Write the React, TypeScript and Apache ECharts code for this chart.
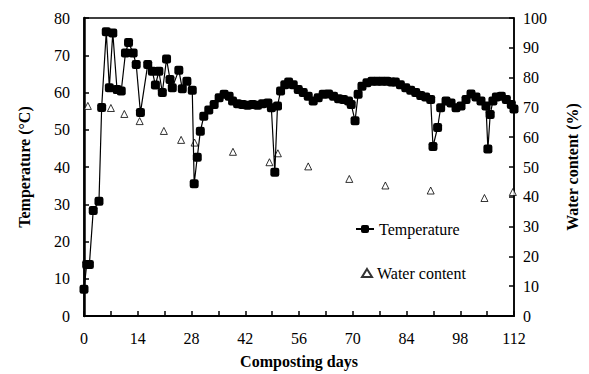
import React, { useEffect, useRef } from "react";
import * as echarts from "echarts";

const tempDays = [0, 0.7, 1.4, 2.4, 3.9, 4.6, 5.8, 6.6, 7.5, 8.6, 9.7, 10.8, 11.6, 12.8, 13.6, 14.7, 16.6, 17.8, 18.6, 19.5, 20.4, 21.5, 22.4, 23, 24.7, 25.6, 26.8, 28.2, 28.7, 29.5, 30.3, 31.2, 32.5, 33.9, 35.2, 36.5, 37.8, 38.7, 40, 41.3, 42.6, 43.9, 45.2, 46.5, 47.9, 48.8, 49.7, 50.4, 51.2, 52.3, 53.3, 54.5, 55.8, 57.1, 58.4, 59.7, 61, 62.3, 63.7, 65, 66.3, 67.6, 68.9, 69.6, 70.6, 71.4, 72.4, 73.7, 75, 76.3, 77.6, 78.9, 80.1, 81.1, 82.4, 83.8, 85.1, 86.4, 87.7, 89, 90.3, 90.9, 92.1, 92.9, 94.3, 95.6, 96.9, 98.2, 99.5, 100.8, 102.1, 103.4, 104.7, 105.2, 105.8, 106.5, 107.4, 108.7, 110, 111.3, 112];
const tempValues = [7.2, 13.8, 13.8, 28.3, 30.8, 56, 76.3, 61.3, 76, 60.8, 60.4, 70.6, 73.4, 70.6, 67.5, 54.6, 67.5, 65.7, 62, 65.7, 60, 69, 63.5, 61.3, 66, 61, 63, 60.6, 35.5, 42.6, 49.6, 53.6, 55.3, 56.8, 58.6, 59.5, 59, 57.7, 57, 56.8, 56.6, 56.8, 56.6, 57, 57.2, 55.9, 38.6, 56.4, 60.4, 62.1, 62.8, 62.1, 60.8, 60, 59, 57.7, 58.6, 59.5, 59.6, 59, 58.3, 58.1, 57.7, 56.8, 52.4, 59.5, 61.7, 62.6, 63, 63, 63, 63, 62.8, 62.8, 62.1, 61.3, 60.6, 60, 59.2, 58.8, 58.1, 45.5, 50.6, 55.9, 57.7, 57.2, 55.9, 56.4, 58.1, 59.6, 58.8, 57.7, 56.4, 44.8, 54.1, 57.7, 58.8, 59, 58.1, 56.8, 55.6];

const waterDays = [1, 7, 10.5, 14.5, 20.8, 25.3, 28.8, 38.8, 48.3, 50.5, 58.4, 69.1, 78.5, 90.3, 104.3, 111.7];
const waterValues = [70.5, 69.8, 67.8, 65.4, 62.1, 59.1, 58.2, 55.1, 51.6, 54.6, 50.2, 46, 43.8, 42.1, 39.6, 41.6];

const xTicks = { min: 0, max: 112, interval: 14 };
const leftTicks = { min: 0, max: 80, interval: 10 };
const rightTicks = { min: 0, max: 100, interval: 10 };

const FONT = "Times New Roman";

export default function App() {
  const ref = useRef<HTMLDivElement>(null);
  useEffect(() => {
    document.body.style.margin = "0";
    const chart = echarts.init(ref.current!, null, { renderer: "svg" });
    const tempData = tempDays.map((d, i) => [d, tempValues[i]]);
    const waterData = waterDays.map((d, i) => [d, waterValues[i]]);
    const axisLabel = { color: "#000", fontFamily: FONT, fontSize: 16 };
    const nameStyle = { color: "#000", fontFamily: FONT, fontSize: 16, fontWeight: "bold" as const };
    chart.setOption({
      animation: false,
      backgroundColor: "#fff",
      textStyle: { fontFamily: FONT },
      grid: { left: 84, right: 75, top: 18, bottom: 56, show: true, borderColor: "#000", borderWidth: 1.5 },
      legend: [
        {
          data: ["Temperature"],
          left: 350,
          top: 216,
          itemWidth: 18,
          itemHeight: 10,
          textStyle: { color: "#000", fontFamily: FONT, fontSize: 16 },
        },
        {
          data: ["Water content"],
          left: 356,
          top: 260,
          itemWidth: 10,
          itemHeight: 8,
          textStyle: { color: "#000", fontFamily: FONT, fontSize: 16 },
        },
      ],
      xAxis: {
        type: "value",
        ...xTicks,
        name: "Composting days",
        nameLocation: "middle",
        nameGap: 37,
        nameTextStyle: nameStyle,
        axisLine: { lineStyle: { color: "#000", width: 2 } },
        axisTick: { inside: true, length: 5, lineStyle: { color: "#000", width: 1.5 } },
        minorTick: { show: true, splitNumber: 2, length: 5, lineStyle: { color: "#000", width: 1.5 } },
        axisLabel: { ...axisLabel, margin: 14 },
        splitLine: { show: false },
      },
      yAxis: [
        {
          type: "value",
          ...leftTicks,
          name: "Temperature (°C)",
          nameLocation: "middle",
          nameGap: 52,
          nameRotate: 90,
          nameTextStyle: nameStyle,
          axisLine: { show: true, lineStyle: { color: "#000", width: 2.5 } },
          axisTick: { show: true, inside: true, length: 5, lineStyle: { color: "#000", width: 1.5 } },
          axisLabel: { ...axisLabel, margin: 14 },
          splitLine: { show: false },
        },
        {
          type: "value",
          position: "right",
          ...rightTicks,
          name: "Water content (%)",
          nameLocation: "middle",
          nameGap: 50,
          nameRotate: 90,
          nameTextStyle: nameStyle,
          axisLine: { show: true, lineStyle: { color: "#000", width: 1.5 } },
          axisTick: { show: true, inside: true, length: 5, lineStyle: { color: "#000", width: 1.5 } },
          axisLabel: { ...axisLabel, margin: 9 },
          splitLine: { show: false },
        },
      ],
      series: [
        {
          name: "Temperature",
          type: "line",
          yAxisIndex: 0,
          data: tempData,
          symbol: "roundRect",
          symbolSize: 9,
          lineStyle: { color: "#000", width: 1.2 },
          itemStyle: { color: "#000" },
          z: 3,
        },
        {
          name: "Water content",
          type: "scatter",
          yAxisIndex: 1,
          data: waterData,
          symbol: "triangle",
          symbolSize: 7,
          itemStyle: { color: "#fff", borderColor: "#000", borderWidth: 1 },
          z: 2,
        },
      ],
    });
    return () => chart.dispose();
  }, []);
  return <div ref={ref} style={{ width: 589, height: 374 }} />;
}
